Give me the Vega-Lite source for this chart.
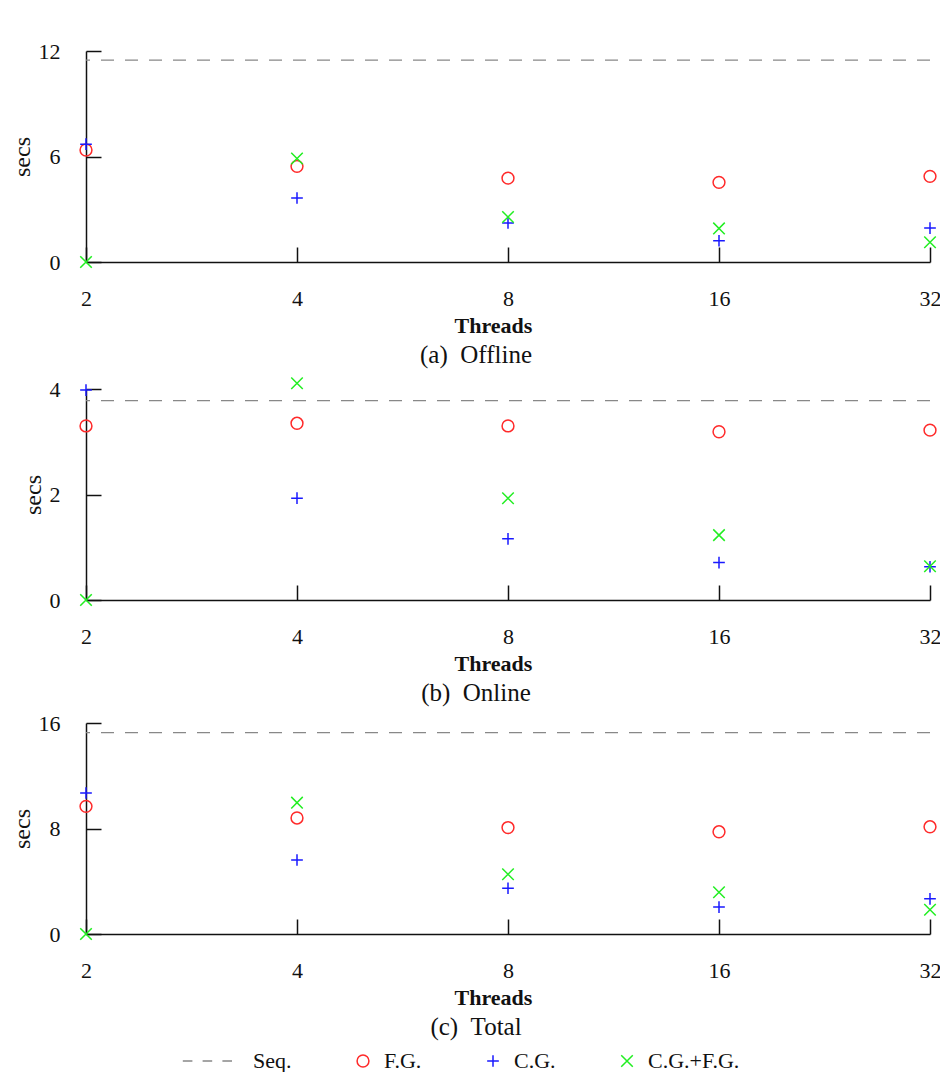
{
  "$schema": "https://vega.github.io/schema/vega-lite/v6.json",
  "padding": {"left": 10, "top": 40, "right": 0, "bottom": 0},
  "background": "white",
  "spacing": 6,
  "datasets": {
    "seq": [
      {"panel": "a", "series": "Seq.", "secs": 11.48},
      {"panel": "b", "series": "Seq.", "secs": 3.78},
      {"panel": "c", "series": "Seq.", "secs": 15.27}
    ],
    "pts": [
      {"panel": "a", "threads": 2, "series": "F.G.", "secs": 6.37},
      {"panel": "a", "threads": 4, "series": "F.G.", "secs": 5.44},
      {"panel": "a", "threads": 8, "series": "F.G.", "secs": 4.77},
      {"panel": "a", "threads": 16, "series": "F.G.", "secs": 4.53},
      {"panel": "a", "threads": 32, "series": "F.G.", "secs": 4.87},
      {"panel": "a", "threads": 2, "series": "C.G.", "secs": 6.7},
      {"panel": "a", "threads": 4, "series": "C.G.", "secs": 3.64},
      {"panel": "a", "threads": 8, "series": "C.G.", "secs": 2.22},
      {"panel": "a", "threads": 16, "series": "C.G.", "secs": 1.21},
      {"panel": "a", "threads": 32, "series": "C.G.", "secs": 1.93},
      {"panel": "a", "threads": 2, "series": "C.G.+F.G.", "secs": 0},
      {"panel": "a", "threads": 4, "series": "C.G.+F.G.", "secs": 5.89},
      {"panel": "a", "threads": 8, "series": "C.G.+F.G.", "secs": 2.56},
      {"panel": "a", "threads": 16, "series": "C.G.+F.G.", "secs": 1.91},
      {"panel": "a", "threads": 32, "series": "C.G.+F.G.", "secs": 1.12},
      {"panel": "b", "threads": 2, "series": "F.G.", "secs": 3.3},
      {"panel": "b", "threads": 4, "series": "F.G.", "secs": 3.35},
      {"panel": "b", "threads": 8, "series": "F.G.", "secs": 3.3},
      {"panel": "b", "threads": 16, "series": "F.G.", "secs": 3.19},
      {"panel": "b", "threads": 32, "series": "F.G.", "secs": 3.22},
      {"panel": "b", "threads": 2, "series": "C.G.", "secs": 3.98},
      {"panel": "b", "threads": 4, "series": "C.G.", "secs": 1.93},
      {"panel": "b", "threads": 8, "series": "C.G.", "secs": 1.16},
      {"panel": "b", "threads": 16, "series": "C.G.", "secs": 0.71},
      {"panel": "b", "threads": 32, "series": "C.G.", "secs": 0.63},
      {"panel": "b", "threads": 2, "series": "C.G.+F.G.", "secs": 0},
      {"panel": "b", "threads": 4, "series": "C.G.+F.G.", "secs": 4.11},
      {"panel": "b", "threads": 8, "series": "C.G.+F.G.", "secs": 1.93},
      {"panel": "b", "threads": 16, "series": "C.G.+F.G.", "secs": 1.23},
      {"panel": "b", "threads": 32, "series": "C.G.+F.G.", "secs": 0.64},
      {"panel": "c", "threads": 2, "series": "F.G.", "secs": 9.68},
      {"panel": "c", "threads": 4, "series": "F.G.", "secs": 8.8},
      {"panel": "c", "threads": 8, "series": "F.G.", "secs": 8.07},
      {"panel": "c", "threads": 16, "series": "F.G.", "secs": 7.75},
      {"panel": "c", "threads": 32, "series": "F.G.", "secs": 8.13},
      {"panel": "c", "threads": 2, "series": "C.G.", "secs": 10.69},
      {"panel": "c", "threads": 4, "series": "C.G.", "secs": 5.61},
      {"panel": "c", "threads": 8, "series": "C.G.", "secs": 3.47},
      {"panel": "c", "threads": 16, "series": "C.G.", "secs": 2.04},
      {"panel": "c", "threads": 32, "series": "C.G.", "secs": 2.67},
      {"panel": "c", "threads": 2, "series": "C.G.+F.G.", "secs": 0},
      {"panel": "c", "threads": 4, "series": "C.G.+F.G.", "secs": 9.96},
      {"panel": "c", "threads": 8, "series": "C.G.+F.G.", "secs": 4.53},
      {"panel": "c", "threads": 16, "series": "C.G.+F.G.", "secs": 3.17},
      {"panel": "c", "threads": 32, "series": "C.G.+F.G.", "secs": 1.84}
    ]
  },
  "vconcat": [
    {
      "width": 844, "height": 211,
      "title": {"text": "(a)\u00a0\u00a0Offline", "orient": "bottom", "dx": -32},
      "layer": [
        {
          "data": {"name": "seq"},
          "transform": [{"filter": "datum.panel == 'a'"}],
          "mark": {"type": "rule", "strokeDash": [13, 11], "color": "#888888", "strokeWidth": 1.3},
          "encoding": {"y": {"field": "secs", "type": "quantitative", "scale": {"domain": [0, 12], "nice": false}, "axis": {"title": "secs", "values": [0, 6, 12]}}}
        },
        {
          "data": {"name": "pts"},
          "transform": [{"filter": "datum.panel == 'a'"}],
          "mark": {"type": "point", "filled": false, "strokeWidth": 1.5, "opacity": 1, "clip": false},
          "encoding": {
            "x": {"field": "threads", "type": "quantitative", "scale": {"type": "log", "base": 2, "domain": [2, 32], "nice": false}, "axis": {"title": "Threads", "values": [2, 4, 8, 16, 32]}},
            "y": {"field": "secs", "type": "quantitative", "scale": {"domain": [0, 12], "nice": false}, "axis": {"title": "secs", "values": [0, 6, 12]}},
            "shape": {"field": "series", "type": "nominal", "title": null, "scale": {"domain": ["Seq.", "F.G.", "C.G.", "C.G.+F.G."], "range": ["M-8.2,0H-6.6M-4.9,0H-3.3M-1.6,0H0", "circle", "M-1,0H1M0,-1V1", "M-1,-1L1,1M-1,1L1,-1"]}},
            "color": {"field": "series", "type": "nominal", "title": null, "scale": {"domain": ["Seq.", "F.G.", "C.G.", "C.G.+F.G."], "range": ["#888888", "#ff2a2a", "#1a1aff", "#22ee22"]}},
            "size": {"field": "series", "type": "nominal", "title": null, "scale": {"domain": ["Seq.", "F.G.", "C.G.", "C.G.+F.G."], "range": [144, 133, 160, 90]}}
          }
        }
      ]
    },
    {
      "width": 844, "height": 211,
      "title": {"text": "(b)\u00a0\u00a0Online", "orient": "bottom", "dx": -32},
      "layer": [
        {
          "data": {"name": "seq"},
          "transform": [{"filter": "datum.panel == 'b'"}],
          "mark": {"type": "rule", "strokeDash": [13, 11], "color": "#888888", "strokeWidth": 1.3},
          "encoding": {"y": {"field": "secs", "type": "quantitative", "scale": {"domain": [0, 4], "nice": false}, "axis": {"title": "secs", "values": [0, 2, 4]}}}
        },
        {
          "data": {"name": "pts"},
          "transform": [{"filter": "datum.panel == 'b'"}],
          "mark": {"type": "point", "filled": false, "strokeWidth": 1.5, "opacity": 1, "clip": false},
          "encoding": {
            "x": {"field": "threads", "type": "quantitative", "scale": {"type": "log", "base": 2, "domain": [2, 32], "nice": false}, "axis": {"title": "Threads", "values": [2, 4, 8, 16, 32]}},
            "y": {"field": "secs", "type": "quantitative", "scale": {"domain": [0, 4], "nice": false}, "axis": {"title": "secs", "values": [0, 2, 4]}},
            "shape": {"field": "series", "type": "nominal", "title": null},
            "color": {"field": "series", "type": "nominal", "title": null},
            "size": {"field": "series", "type": "nominal", "title": null}
          }
        }
      ]
    },
    {
      "width": 844, "height": 211,
      "title": {"text": "(c)\u00a0\u00a0Total", "orient": "bottom", "dx": -32},
      "layer": [
        {
          "data": {"name": "seq"},
          "transform": [{"filter": "datum.panel == 'c'"}],
          "mark": {"type": "rule", "strokeDash": [13, 11], "color": "#888888", "strokeWidth": 1.3},
          "encoding": {"y": {"field": "secs", "type": "quantitative", "scale": {"domain": [0, 16], "nice": false}, "axis": {"title": "secs", "values": [0, 8, 16]}}}
        },
        {
          "data": {"name": "pts"},
          "transform": [{"filter": "datum.panel == 'c'"}],
          "mark": {"type": "point", "filled": false, "strokeWidth": 1.5, "opacity": 1, "clip": false},
          "encoding": {
            "x": {"field": "threads", "type": "quantitative", "scale": {"type": "log", "base": 2, "domain": [2, 32], "nice": false}, "axis": {"title": "Threads", "values": [2, 4, 8, 16, 32]}},
            "y": {"field": "secs", "type": "quantitative", "scale": {"domain": [0, 16], "nice": false}, "axis": {"title": "secs", "values": [0, 8, 16]}},
            "shape": {"field": "series", "type": "nominal", "title": null},
            "color": {"field": "series", "type": "nominal", "title": null},
            "size": {"field": "series", "type": "nominal", "title": null}
          }
        }
      ]
    }
  ],
  "resolve": {"scale": {"shape": "shared", "color": "shared", "size": "shared"}},
  "config": {
    "font": "Liberation Serif",
    "view": {"stroke": null},
    "title": {"font": "Liberation Serif", "fontSize": 25, "fontWeight": "normal", "color": "#111111", "offset": 7, "anchor": "middle"},
    "axis": {
      "grid": false,
      "domainColor": "#111111",
      "domainWidth": 1.5,
      "tickColor": "#111111",
      "tickWidth": 1.5,
      "tickSize": -15,
      "labelFont": "Liberation Serif",
      "labelFontSize": 22,
      "labelColor": "#111111",
      "titleFont": "Liberation Serif",
      "titleColor": "#111111"
    },
    "axisX": {"labelPadding": 41, "titleFontSize": 22, "titleFontWeight": "bold", "titlePadding": 6, "titleX": 407, "labelFlush": false, "labelOverlap": false},
    "axisY": {"labelPadding": 41, "titleFontSize": 24, "titleFontWeight": "normal", "titlePadding": 4, "labelOverlap": false},
    "legend": {
      "orient": "none",
      "legendX": 135,
      "legendY": 999,
      "direction": "horizontal",
      "labelFont": "Liberation Serif",
      "labelFontSize": 22,
      "labelColor": "#111111",
      "symbolStrokeWidth": 1.5,
      "columnPadding": 60,
      "labelOffset": 10
    }
  }
}
